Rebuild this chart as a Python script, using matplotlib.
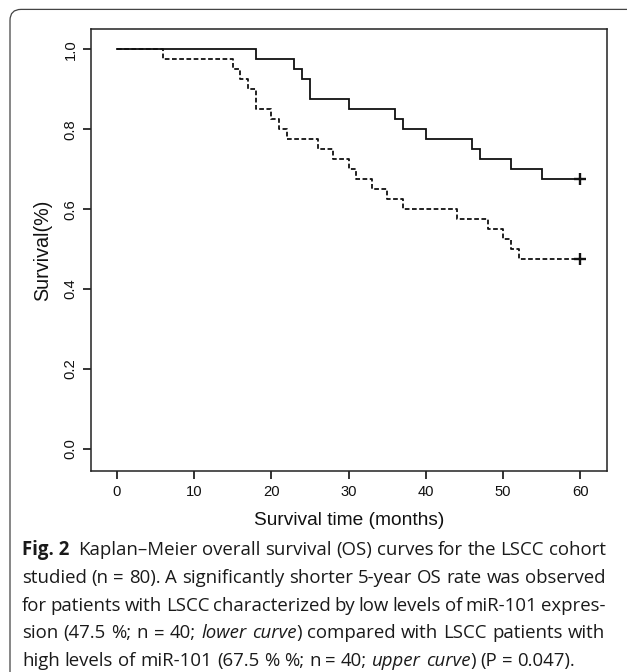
import matplotlib
matplotlib.use("Agg")
import matplotlib.pyplot as plt
from matplotlib.path import Path
from matplotlib.patches import PathPatch

# ---------------- data ----------------
x_ticks = [0, 10, 20, 30, 40, 50, 60]
y_ticks = [0.0, 0.2, 0.4, 0.6, 0.8, 1.0]
y_tick_labels = ["0.0", "0.2", "0.4", "0.6", "0.8", "1.0"]

# high miR-101 (upper curve, solid)
times_high = [0, 18, 23, 24, 25, 30, 36, 37, 40, 46, 47, 51, 55, 60]
surv_high = [1.0, 0.975, 0.95, 0.925, 0.875, 0.85, 0.825, 0.8, 0.775,
             0.75, 0.725, 0.7, 0.675, 0.675]

# low miR-101 (lower curve, dashed)
times_low = [0, 6, 15, 16, 17, 18, 20, 21, 22, 26, 28, 30, 31, 33, 35, 37,
             44, 48, 50, 51, 52, 60]
surv_low = [1.0, 0.975, 0.95, 0.925, 0.9, 0.85, 0.825, 0.8, 0.775, 0.75,
            0.725, 0.7, 0.675, 0.65, 0.625, 0.6, 0.575, 0.55, 0.525, 0.5,
            0.475, 0.475]

x_label = "Survival time (months)"
y_label = "Survival(%)"

# caption: lines of tokens, each token a list of (text, style) runs
caption_lines = [
    [[("Fig. 2", "b")], [("Kaplan–Meier", "n")], [("overall", "n")], [("survival", "n")],
     [("(OS)", "n")], [("curves", "n")], [("for", "n")], [("the", "n")],
     [("LSCC", "n")], [("cohort", "n")]],
    [[(w, "n")] for w in "studied (n = 80). A significantly shorter 5-year OS rate was observed".split(" ")],
    [[(w, "n")] for w in "for patients with LSCC characterized by low levels of miR-101 expres-".split(" ")],
    [[(w, "n")] for w in "sion (47.5 %; n = 40;".split(" ")]
    + [[("lower", "i")], [("curve", "i"), (")", "n")]]
    + [[(w, "n")] for w in "compared with LSCC patients with".split(" ")],
    [[(w, "n")] for w in "high levels of miR-101 (67.5 % %; n = 40;".split(" ")]
    + [[("upper", "i")], [("curve", "i"), (")", "n")]]
    + [[(w, "n")] for w in "(P = 0.047).".split(" ")],
]

# ---------------- figure ----------------
W, H = 627, 672
fig = plt.figure(figsize=(W / 100, H / 100), dpi=100)
fig.patch.set_facecolor("white")


def fx(px):
    return px / W


def fy(py):
    return 1 - py / H


AX_L, AX_R, AX_T, AX_B = 90.7, 606.7, 29.0, 471.0
ax = fig.add_axes([fx(AX_L), fy(AX_B), fx(AX_R) - fx(AX_L), fy(AX_T) - fy(AX_B)])

ink = "#111111"
ax.step(times_high, surv_high, where="post", color=ink, lw=1.3, solid_joinstyle="miter")
ax.step(times_low, surv_low, where="post", color=ink, lw=1.3, linestyle=(0, (2.6, 1.4)))
ax.plot([times_high[-1]], [surv_high[-1]], marker="+", color=ink, ms=9, mew=1.7, ls="none")
ax.plot([times_low[-1]], [surv_low[-1]], marker="+", color=ink, ms=9, mew=1.7, ls="none")

ax.set_xlim(-3.36, 63.4)
ax.set_ylim(-0.055, 1.051)
ax.set_xticks(x_ticks)
ax.set_xticklabels([str(t) for t in x_ticks])
ax.set_yticks(y_ticks)
ax.set_yticklabels(y_tick_labels, rotation=90, va="center")

for lab in ax.get_xticklabels() + ax.get_yticklabels():
    lab.set_fontfamily("Liberation Sans")
    lab.set_fontsize(10.6)
    lab.set_color(ink)

ax.tick_params(axis="both", direction="out", length=5.8, width=1.2, color=ink)
ax.tick_params(axis="x", pad=4.5)
ax.tick_params(axis="y", pad=3.5)
for sp in ax.spines.values():
    sp.set_linewidth(1.1)
    sp.set_color("#222222")

ax.set_xlabel(x_label, fontfamily="Liberation Sans", fontsize=13.8, color=ink)
ax.xaxis.set_label_coords(0.5, (AX_B - 524.7) / (AX_B - AX_T))
ax.xaxis.label.set_va("baseline")
ax.set_ylabel(y_label, fontfamily="Liberation Sans", fontsize=14.2, color=ink)
ax.yaxis.set_label_coords((43 - AX_L) / (AX_R - AX_L), 0.5)
ax.yaxis.label.set_va("center")

# ---------------- outer frame (left + top with rounded corner) ----------------
x0, ytop, r = 10.0, 9.4, 11.0
verts = [(fx(x0), fy(H)), (fx(x0), fy(ytop + r)), (fx(x0), fy(ytop)),
         (fx(x0 + r), fy(ytop)), (fx(W), fy(ytop))]
codes = [Path.MOVETO, Path.LINETO, Path.CURVE3, Path.CURVE3, Path.LINETO]
fig.patches.append(PathPatch(Path(verts, codes), transform=fig.transFigure,
                             fill=False, edgecolor="#444444", lw=0.9))

# ---------------- caption ----------------
cap_size = 13.45
cap_left, cap_right = 22.0, 605.5
baselines = [555.0, 582.7, 610.7, 638.3, 666.0]
renderer = fig.canvas.get_renderer()


def style_kw(st):
    kw = dict(fontfamily="Open Sans", fontsize=cap_size, color="#1a1a1a",
              va="baseline", ha="left")
    if st == "b":
        kw["fontweight"] = "bold"
    if st == "i":
        kw["fontstyle"] = "italic"
    return kw


def measure(s, st):
    t = fig.text(0, 0, s, **style_kw(st))
    w = t.get_window_extent(renderer).width
    t.remove()
    return w


space_w = measure("n n", "n") - measure("nn", "n")

for li, (tokens, base) in enumerate(zip(caption_lines, baselines)):
    widths = [[measure(s, st) for s, st in tok] for tok in tokens]
    tok_w = [sum(w) for w in widths]
    weights = [1.0] * (len(tokens) - 1)
    if li == 0:
        weights[0] = 2.0
    justify = li < len(caption_lines) - 1
    if justify:
        gap_unit = max((cap_right - cap_left - sum(tok_w)) / sum(weights), 0.5 * space_w)
    else:
        gap_unit = space_w
    x = cap_left
    for ti, tok in enumerate(tokens):
        xr = x
        for (s, st), w in zip(tok, widths[ti]):
            fig.text(fx(xr), fy(base), s, **style_kw(st))
            xr += w
        x += tok_w[ti]
        if ti < len(weights):
            x += gap_unit * weights[ti]

fig.savefig("out.png", dpi=100)
